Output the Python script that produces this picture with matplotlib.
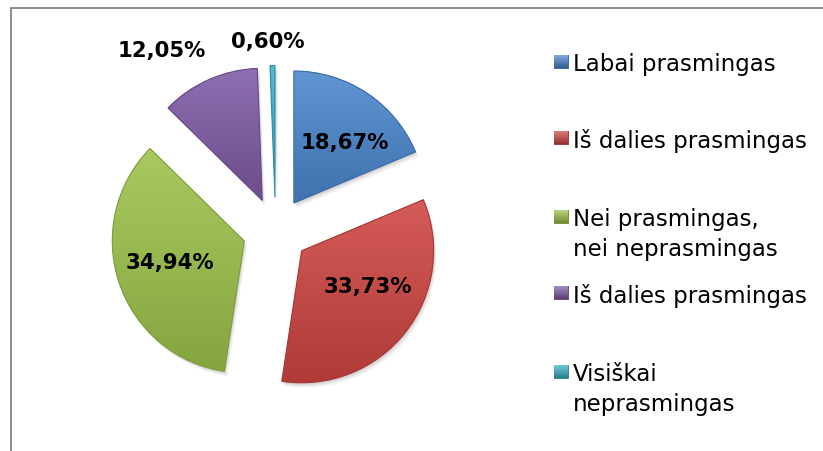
import numpy as np
import matplotlib.pyplot as plt
from matplotlib.patches import Wedge, Rectangle
from matplotlib.colors import to_rgb

# answers and their shares (%)
categories = ["Labai prasmingas", "Iš dalies prasmingas",
              "Nei prasmingas,\nnei neprasmingas", "Iš dalies prasmingas",
              "Visiškai\nneprasmingas"]
shares = [18.67, 33.73, 34.94, 12.05, 0.60]
colors = ["#4a86cd", "#cf4541", "#9dc24a", "#7e5ba6", "#3bb0cb"]

# where each value label sits relative to its wedge
lab_dist = [0.60, 0.57, 0.585, 1.37, 1.19]
lab_turn = [-6, 10, -3, 10, 1.5]

W, H = 823, 452
fig = plt.figure(figsize=(W / 100, H / 100), dpi=100)
ax = fig.add_axes([0, 0, 1, 1])


def add_gradient(patch, base, light=0.12, dark=0.85):
    ext = patch.get_path().get_extents(patch.get_patch_transform())
    c = np.array(to_rgb(base))
    top = c + (1 - c) * light
    bot = c * dark
    t = np.linspace(0, 1, 64)[:, None, None]
    img = bot + (top - bot) * t
    im = ax.imshow(img, extent=(ext.x0, ext.x1, ext.y0, ext.y1), origin='lower',
                   aspect='auto', interpolation='bilinear', zorder=patch.get_zorder() + 0.1)
    im.set_clip_path(patch)


cx, cy, R = 275.6, H - 231.5, 132
# explode is in data units here (pixels)
wedges, _ = ax.pie(shares, colors=colors, startangle=90, counterclock=False,
                   explode=[33] * len(shares), radius=R, center=(cx, cy),
                   wedgeprops=dict(linewidth=0))

for w, col in zip(wedges, colors):
    # soft drop shadow
    for off, a in [(2, 0.10), (3.5, 0.08), (5, 0.05)]:
        ax.add_patch(Wedge((w.center[0] + off * 0.6, w.center[1] - off), w.r,
                           w.theta1, w.theta2, color='#404040', alpha=a, lw=0, zorder=0))
    add_gradient(w, col)
    # thin darker rim for the bevel look
    ax.add_patch(Wedge(w.center, w.r, w.theta1, w.theta2, fill=False,
                       edgecolor=np.array(to_rgb(col)) * 0.8, lw=0.8, zorder=2))

for w, v, d, turn in zip(wedges, shares, lab_dist, lab_turn):
    ang = np.deg2rad((w.theta1 + w.theta2) / 2 + turn)
    x = w.center[0] + d * w.r * np.cos(ang)
    y = w.center[1] + d * w.r * np.sin(ang)
    ax.text(x, y, f"{v:.2f}".replace('.', ',') + '%', ha='center', va='center',
            fontsize=15.3, fontweight='bold', color='black', zorder=5)

# legend
leg_y = [62, 138, 217, 293, 372]
for cat, col, y in zip(categories, colors, leg_y):
    rect = Rectangle((554, H - y - 6.5), 14, 13, facecolor=col,
                     edgecolor=np.array(to_rgb(col)) * 0.7, lw=0.6, zorder=3)
    ax.add_patch(rect)
    add_gradient(rect, col, light=0.3, dark=0.7)
    ax.text(573, H - (y - 9), cat, ha='left', va='top', fontsize=16.5,
            linespacing=1.41, color='black', zorder=5)

# chart frame
ax.plot([10.5, 10.5, W], [0, H - 8.5, H - 8.5], color='#8c8c8c', lw=1.4,
        solid_joinstyle='miter', zorder=6)

ax.set_xlim(0, W)
ax.set_ylim(0, H)
ax.set_aspect('equal')
ax.axis('off')

fig.savefig('out.png', dpi=100)
